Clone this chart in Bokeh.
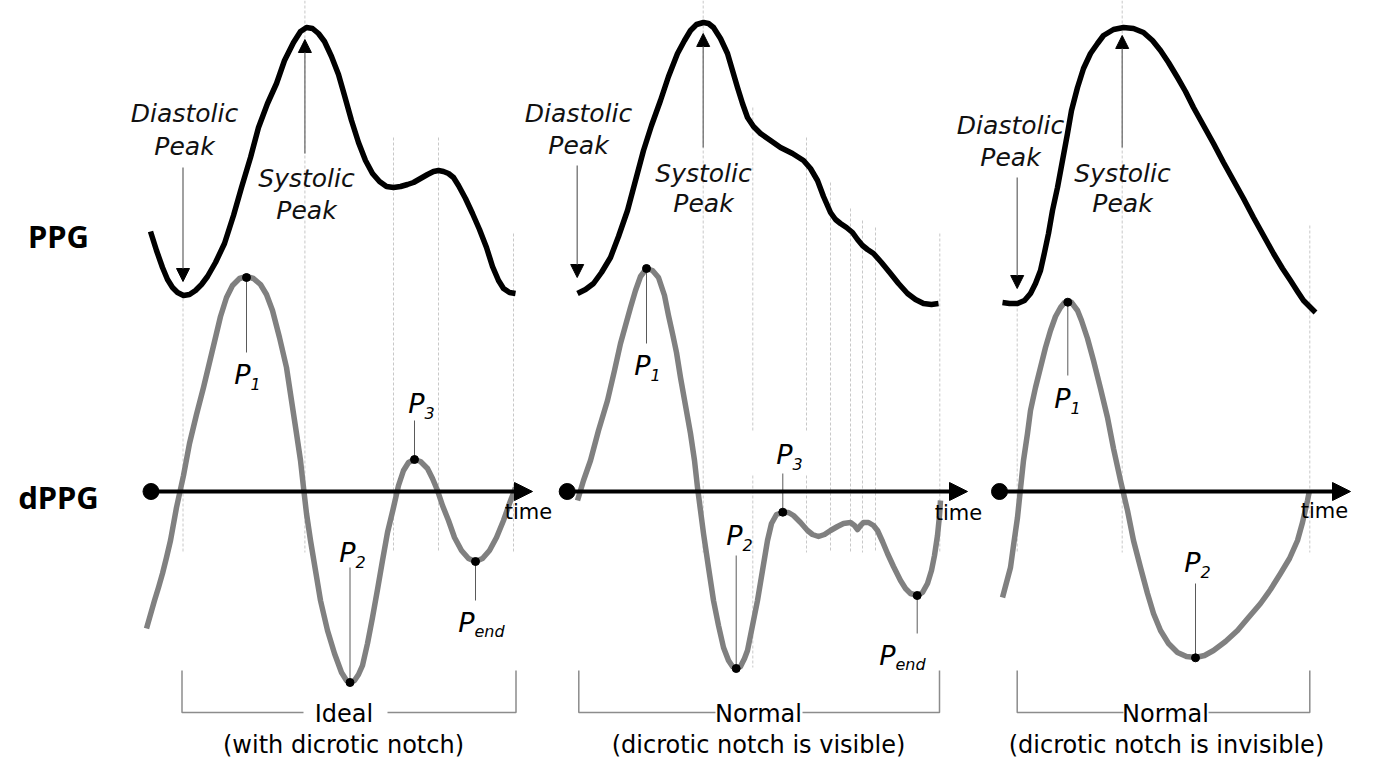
from bokeh.plotting import figure
from bokeh.models import Range1d, Arrow, NormalHead
from bokeh.embed import file_html
from bokeh.resources import INLINE
from bokeh.core.properties import value

# ---------------- data (screen-like units) ----------------
ppg1_x = [150,156,162,167,172,177,183,189,195,201,207,215,224,233,241,250,258,267,276,284,293,300,306,312,318,324,331,338,344,351,358,365,372,379,386,393,400,407,413,420,427,433,438,443,448,453,458,465,472,479,486,492,498,503,509,515]
ppg1_y = [231,250,267,279,287,292,295,294,290,284,276,262,243,215,187,157,127,103,83,60,42,31,27,28,33,41,56,74,95,120,142,160,173,181,186,187,186,184,182,178,174,171,170,171,173,177,185,198,213,229,247,266,280,288,292,293]

dppg1_x = [146,150,154,158,162,166,170,176,183,189,196,203,209,215,220,226,232,239,246,253,260,266,272,279,286,291,296,300,303,306,310,315,320,327,334,341,346,350,354,358,362,367,372,377,382,387,393,398,403,408,414,420,427,432,437,442,448,454,461,468,475,482,489,496,503,509,515]
dppg1_y = [628,614,600,587,573,557,540,507,475,443,414,387,362,337,316,297,285,278,276,278,284,294,310,337,367,400,433,460,487,513,540,570,600,630,653,672,680,682,680,674,665,643,617,589,560,532,507,485,470,462,459,461,468,478,490,505,520,537,550,558,561,558,550,537,520,503,487]

ppg2_x = [577,585,593,601,610,618,627,635,643,651,660,668,677,684,690,696,703,708,713,720,727,732,737,742,747,753,760,770,780,792,803,810,817,823,830,835,840,846,852,857,862,867,873,881,890,898,907,915,923,931,938]
ppg2_y = [293,289,283,272,257,236,210,180,150,125,100,76,53,40,30,24,22,23,27,38,53,70,87,103,117,126,133,140,147,153,160,168,180,196,212,219,223,227,232,239,245,249,253,262,273,283,293,299,303,304,303]

dppg2_x = [577,583,590,598,607,614,620,625,630,635,640,646,652,658,664,668,672,676,680,685,690,694,697,700,703,708,713,718,723,728,732,736,740,744,747,752,757,762,767,771,776,782,788,793,800,807,812,818,824,830,837,843,850,854,857,860,863,868,873,877,882,887,893,900,905,910,917,922,927,931,934,937,939,940]
dppg2_y = [500,480,460,430,400,370,343,325,307,290,276,268,270,277,295,315,333,352,377,405,433,460,487,510,533,567,600,625,647,660,666,668,666,658,650,625,600,570,540,523,514,512,512,515,522,530,534,536,534,530,526,523,522,525,529,525,522,522,525,530,541,553,566,580,588,593,595,592,583,570,555,535,515,500]

ppg3_x = [1002,1009,1017,1024,1030,1035,1040,1044,1048,1052,1057,1062,1067,1071,1077,1083,1090,1097,1103,1113,1123,1133,1143,1152,1160,1168,1177,1185,1193,1203,1213,1223,1233,1243,1253,1263,1273,1282,1290,1297,1303,1309,1315]
ppg3_y = [302,303,303,300,293,283,270,252,233,210,187,160,133,110,87,68,53,43,35,29,27,28,32,40,50,62,77,91,107,125,143,162,180,198,217,235,253,268,280,291,300,306,312]

dppg3_x = [1002,1006,1010,1013,1017,1020,1023,1027,1030,1035,1040,1045,1050,1055,1060,1064,1067,1071,1077,1081,1087,1093,1100,1107,1113,1120,1127,1133,1140,1147,1153,1160,1168,1177,1186,1195,1204,1213,1225,1237,1248,1260,1270,1280,1289,1297,1302,1307,1309]
dppg3_y = [597,582,567,545,517,488,460,433,410,387,367,347,330,316,307,302,301,302,310,320,338,360,388,417,448,480,510,540,567,593,613,630,643,652,656,657,655,650,641,630,617,603,589,573,558,540,522,500,490]

# dashed guide lines: x, top, bottom
guide_x   = [182.5, 304.4, 393, 438, 513, 702.7, 752.3, 752.3, 806, 806, 830, 850, 862, 875, 939.3, 1016.7, 1121.7, 1309.3]
guide_top = [298, 0, 137, 137, 233, 0, 107, 475, 137, 475, 182, 208, 220, 227, 233, 303, 0, 225]
guide_bot = [552, 552, 552, 552, 552, 552, 432, 667, 432, 552, 552, 552, 552, 552, 552, 552, 552, 552]

# peak arrows
dia_x = [182.5, 576.7, 1016.7]
dia_from = [167, 165, 177]
dia_to = [281, 277, 288]
sys_x = [304.4, 702.7, 1121.7]
sys_from = [153, 147, 147]
sys_to = [39, 33, 35]
dia_lbl_x = [184, 578, 1010]
dia_lbl_y1 = [113, 113, 125]
dia_lbl_y2 = [146, 145, 157]
sys_lbl_x = [306, 703, 1122]
sys_lbl_y1 = [178, 173, 173]
sys_lbl_y2 = [210, 203, 203]

# characteristic points on the dPPG curves
pt_x     = [246, 349.5, 414, 475, 646, 735.7, 782.3, 916.7, 1067.3, 1195]
pt_y     = [277, 682, 459, 561, 268, 668, 511.7, 595, 301.7, 657.3]
pt_lend  = [352, 567, 420, 600, 343, 555, 473, 633, 375, 583]
pt_lbl_x = [250, 355, 424, 474, 650, 742, 792, 895, 1070, 1200]
pt_lbl_y = [374, 552, 403, 622, 365, 535, 454, 655, 398, 562]
pt_sub   = ["1", "2", "3", "end", "1", "2", "3", "end", "1", "2"]

# time axes
axis_x0 = [150.5, 566.7, 999]
axis_x1 = [532, 967, 1350]
axis_y = [491, 491, 491]
time_x = [528, 958, 1324]
time_y = [511, 512, 510]

# brackets
br_left = [181.5, 578.3, 1016.7]
br_right = [515.5, 939, 1309.3]
br_gap_l = [303, 715, 1123]
br_gap_r = [387, 802, 1208]
br_top = 670
br_bot = 712
br_title = ["Ideal", "Normal", "Normal"]
br_title_x = [343.5, 758, 1165]
br_sub = ["(with dicrotic notch)", "(dicrotic notch is visible)", "(dicrotic notch is invisible)"]
br_sub_x = [343, 758, 1166]

row_labels = ["PPG", "dPPG"]
row_lbl_x = [58, 58]
row_lbl_y = [235, 496]

# ---------------- figure ----------------
W, H = 1366, 761
p = figure(width=W, height=H, x_range=Range1d(0, W), y_range=Range1d(H, 0),
           output_backend="svg", toolbar_location=None, min_border=0,
           x_axis_location=None, y_axis_location=None)
p.grid.visible = False
p.outline_line_color = None
p.background_fill_color = "white"
p.border_fill_color = "white"

FONT = value("DejaVu Sans")
FONT_ROW = value("Noto Sans")

# dashed guides
p.segment(x0=guide_x, y0=guide_top, x1=guide_x, y1=guide_bot,
          line_color="#c8c8c8", line_width=1, line_dash="3 2")

# curves
for xs, ys in [(dppg1_x, dppg1_y), (dppg2_x, dppg2_y), (dppg3_x, dppg3_y)]:
    p.line(xs, ys, line_color="#808080", line_width=5.5, line_join="round")
for xs, ys in [(ppg1_x, ppg1_y), (ppg2_x, ppg2_y), (ppg3_x, ppg3_y)]:
    p.line(xs, ys, line_color="black", line_width=5.5, line_join="round")

# time axes
for x0, x1, y in zip(axis_x0, axis_x1, axis_y):
    p.add_layout(Arrow(end=NormalHead(size=18, fill_color="black", line_color="black"),
                       x_start=x0, y_start=y, x_end=x1, y_end=y,
                       line_color="black", line_width=4))
p.scatter(axis_x0, axis_y, size=16, color="black")
p.text(x=time_x, y=time_y, text=["time"] * 3, text_font=FONT, text_font_size="21px",
       text_align="center", text_baseline="middle", text_color="black")

# peak arrows
for i in range(3):
    p.add_layout(Arrow(end=NormalHead(size=13, fill_color="black", line_color="black"),
                       x_start=dia_x[i], y_start=dia_from[i], x_end=dia_x[i], y_end=dia_to[i],
                       line_color="#6e6e6e", line_width=1.3))
    p.add_layout(Arrow(end=NormalHead(size=13, fill_color="black", line_color="black"),
                       x_start=sys_x[i], y_start=sys_from[i], x_end=sys_x[i], y_end=sys_to[i],
                       line_color="#6e6e6e", line_width=1.3))
ann = dict(text_font=FONT, text_font_size="25px", text_font_style="italic",
           text_align="center", text_baseline="middle", text_color="#111111")
p.text(x=dia_lbl_x, y=dia_lbl_y1, text=["Diastolic"] * 3, **ann)
p.text(x=dia_lbl_x, y=dia_lbl_y2, text=["Peak"] * 3, **ann)
p.text(x=sys_lbl_x, y=sys_lbl_y1, text=["Systolic"] * 3, **ann)
p.text(x=sys_lbl_x, y=sys_lbl_y2, text=["Peak"] * 3, **ann)

# characteristic points
p.segment(x0=pt_x, y0=pt_y, x1=pt_x, y1=pt_lend, line_color="#5a5a5a", line_width=1)
p.scatter(pt_x, pt_y, size=8, color="black")
p.text(x=pt_lbl_x, y=pt_lbl_y, text=["P"] * len(pt_x), text_font=FONT, text_font_size="27px",
       text_font_style="italic", text_align="right", text_baseline="middle", text_color="black")
p.text(x=pt_lbl_x, y=pt_lbl_y, text=pt_sub, text_font=FONT, text_font_size="16px",
       text_font_style="italic", text_align="left", text_baseline="middle", text_color="black",
       y_offset=9)

# brackets
bx, by = [], []
for l, r, gl, gr in zip(br_left, br_right, br_gap_l, br_gap_r):
    bx.append([l, l, gl]); by.append([br_top, br_bot, br_bot])
    bx.append([gr, r, r]); by.append([br_bot, br_bot, br_top])
p.multi_line(bx, by, line_color="#8c8c8c", line_width=1.5)
p.text(x=br_title_x, y=[713] * 3, text=br_title, text_font=FONT, text_font_size="24px",
       text_align="center", text_baseline="middle", text_color="black")
p.text(x=br_sub_x, y=[744] * 3, text=br_sub, text_font=FONT, text_font_size="24px",
       text_align="center", text_baseline="middle", text_color="black")

# row labels
p.text(x=row_lbl_x, y=row_lbl_y, text=row_labels, text_font=FONT_ROW, text_font_size="31px",
       text_font_style="bold", text_align="center", text_baseline="middle", text_color="black")

open("out.html", "w").write(file_html(p, INLINE))
